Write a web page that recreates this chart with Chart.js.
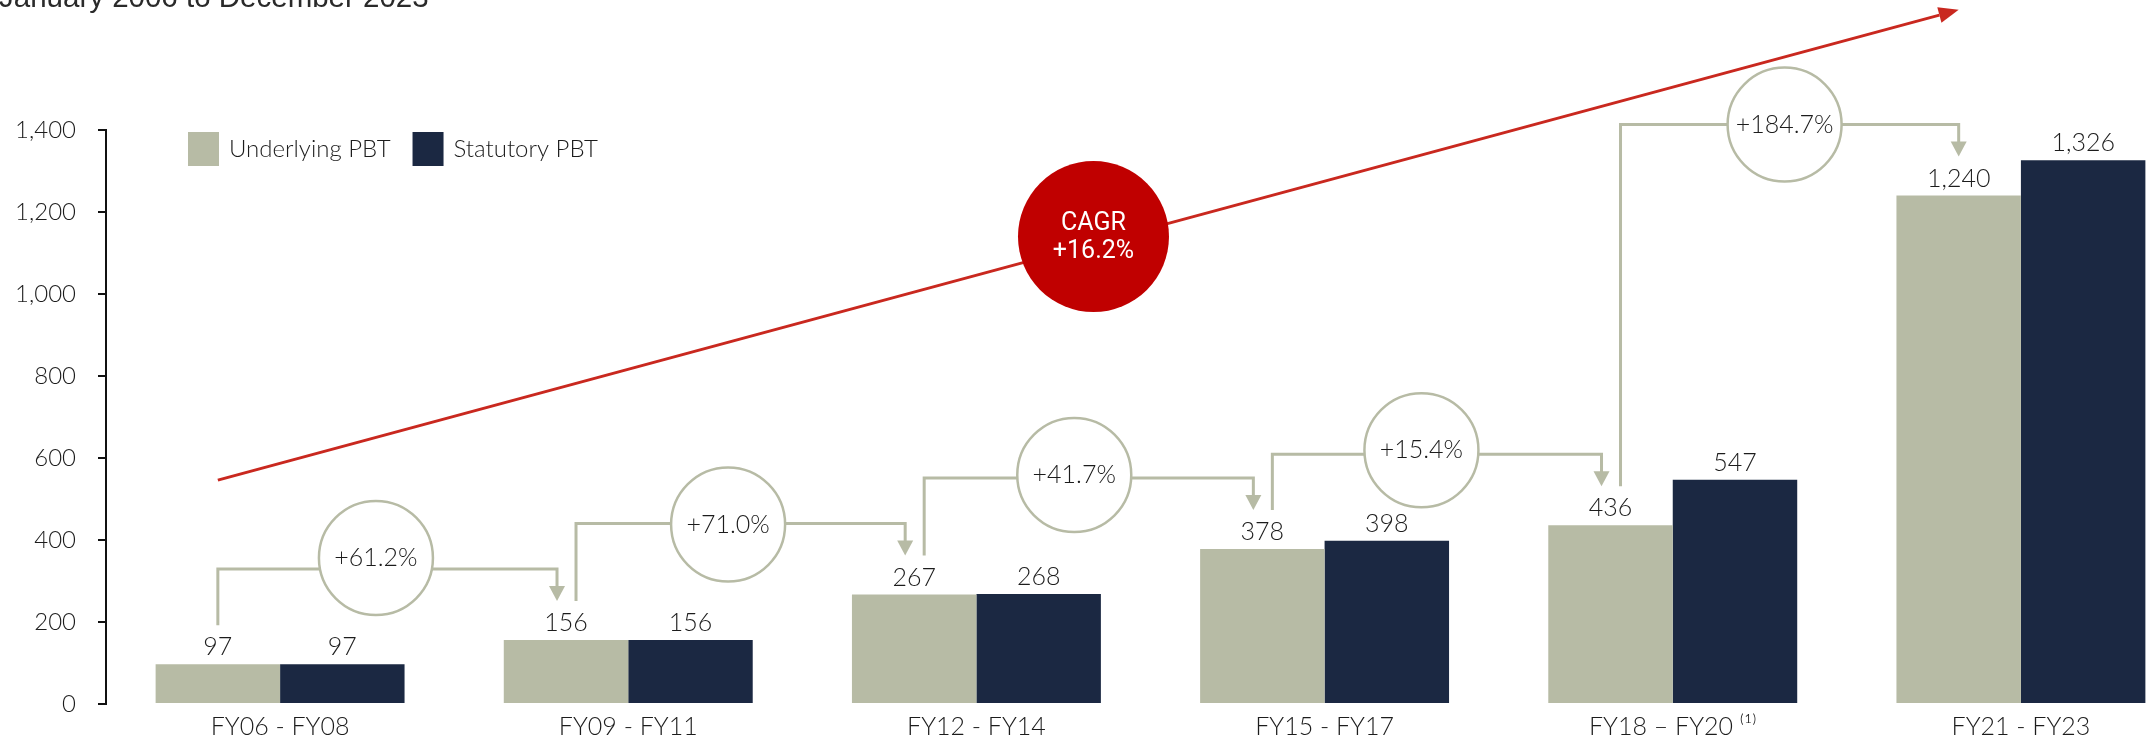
<!DOCTYPE html>
<html>
<head>
<meta charset="utf-8">
<script src="https://cdn.jsdelivr.net/npm/chart.js@4.4.1/dist/chart.umd.min.js"></script>
<style>
  html, body { margin: 0; padding: 0; background: #fff; overflow: hidden; }
  #wrap { position: relative; width: 2195px; height: 741px; }
  #period {
    position: absolute; left: -1px; top: -18px;
    font: 29.5px/30px "Liberation Sans", Arial, sans-serif;
    color: #2a2a2a; white-space: nowrap;
  }
</style>
</head>
<body>
<div id="wrap">
  <canvas id="pbtChart" width="2195" height="741"></canvas>
  <div id="period">January 2006 to December 2023</div>
</div>
<script>
// PBT by three-year period, £m
const periods = ['FY06 - FY08', 'FY09 - FY11', 'FY12 - FY14', 'FY15 - FY17', 'FY18 – FY20 ⁽¹⁾', 'FY21 - FY23'];
const underlyingPBT = [97, 156, 267, 378, 436, 1240];
const statutoryPBT = [97, 156, 268, 398, 547, 1326];
const growthLabels = ['+61.2%', '+71.0%', '+41.7%', '+15.4%', '+184.7%'];
const cagrText = ['CAGR', '+16.2%'];
const trendFrom = 546;   // trend arrow runs from first to last underlying bar
const trendTo = 1693;
const yMax = 1400;
const yStep = 200;

const FONT = '"Lato", "Noto Sans", sans-serif';
const SAGE = '#b7bba5';
const NAVY = '#1b2842';
const INK = '#1c1c1c';
const RED = '#c9281f';
const CAGR_FILL = '#c00000';

const fmt = v => v.toLocaleString('en-US');

// labels, growth connectors, trend arrow and legend drawn on top of the bars
const overlay = {
  id: 'overlay',
  afterDatasetsDraw(chart) {
    const ctx = chart.ctx;
    const y = chart.scales.y;
    const under = chart.getDatasetMeta(0).data;

    ctx.save();

    // value above every bar
    ctx.font = `300 25px ${FONT}`;
    ctx.fillStyle = INK;
    ctx.textAlign = 'center';
    ctx.textBaseline = 'alphabetic';
    chart.data.datasets.forEach((ds, di) => {
      chart.getDatasetMeta(di).data.forEach((bar, i) => {
        ctx.fillText(fmt(ds.data[i]), bar.x, bar.y - 9);
      });
    });

    // red trend arrow
    const x0 = under[0].x, y0 = y.getPixelForValue(trendFrom);
    const x1 = under[under.length - 1].x, y1 = y.getPixelForValue(trendTo);
    const ang = Math.atan2(y1 - y0, x1 - x0);
    const headLen = 20, headHalf = 8;
    ctx.strokeStyle = RED;
    ctx.fillStyle = RED;
    ctx.lineWidth = 3;
    ctx.beginPath();
    ctx.moveTo(x0, y0);
    ctx.lineTo(x1 - Math.cos(ang) * headLen, y1 - Math.sin(ang) * headLen);
    ctx.stroke();
    ctx.beginPath();
    ctx.moveTo(x1, y1);
    ctx.lineTo(x1 - Math.cos(ang) * headLen - Math.sin(ang) * headHalf,
               y1 - Math.sin(ang) * headLen + Math.cos(ang) * headHalf);
    ctx.lineTo(x1 - Math.cos(ang) * headLen + Math.sin(ang) * headHalf,
               y1 - Math.sin(ang) * headLen - Math.cos(ang) * headHalf);
    ctx.closePath();
    ctx.fill();

    // CAGR bubble sitting on the trend line
    const t = 0.503;
    const cx = x0 + t * (x1 - x0), cy = y0 + t * (y1 - y0) - 7;
    ctx.fillStyle = CAGR_FILL;
    ctx.beginPath();
    ctx.arc(cx, cy, 75.5, 0, Math.PI * 2);
    ctx.fill();
    ctx.fillStyle = '#fff';
    ctx.font = `400 25px "Roboto", sans-serif`;
    ctx.textBaseline = 'middle';
    ctx.fillText(cagrText[0], cx, cy - 13);
    ctx.fillText(cagrText[1], cx, cy + 15);

    // period-on-period growth connectors
    const tipY = i => under[i].y - 39;
    const shiftX = [-16, -12, -14, -15, 0];
    const shiftY = [-11, 1, -3, -4, 0];
    ctx.lineJoin = 'miter';
    for (let i = 0; i < growthLabels.length; i++) {
      const last = i + 1 === under.length - 1;
      const xs = under[i].x + (i > 0 ? 10 : 0);
      const xe = under[i + 1].x - (last ? 0 : 9);
      const ys = tipY(i), ye = tipY(i + 1);
      const hy = Math.min(ys, ye) - 32;

      ctx.strokeStyle = SAGE;
      ctx.lineWidth = 3;
      ctx.beginPath();
      ctx.moveTo(xs, ys);
      ctx.lineTo(xs, hy);
      ctx.lineTo(xe, hy);
      ctx.lineTo(xe, ye - 14);
      ctx.stroke();

      ctx.fillStyle = SAGE;
      ctx.beginPath();
      ctx.moveTo(xe - 8, ye - 15);
      ctx.lineTo(xe + 8, ye - 15);
      ctx.lineTo(xe, ye);
      ctx.closePath();
      ctx.fill();

      const bx = (under[i].x + under[i + 1].x) / 2 + shiftX[i];
      const by = hy + shiftY[i];
      ctx.beginPath();
      ctx.arc(bx, by, 57, 0, Math.PI * 2);
      ctx.fillStyle = '#fff';
      ctx.fill();
      ctx.lineWidth = 2.5;
      ctx.stroke();

      ctx.fillStyle = INK;
      ctx.font = `300 25px ${FONT}`;
      ctx.textBaseline = 'middle';
      ctx.fillText(growthLabels[i], bx, by);
    }

    // legend
    const lx = chart.chartArea.left + 82, ly = chart.chartArea.top + 19;
    ctx.textAlign = 'left';
    ctx.textBaseline = 'middle';
    ctx.font = `300 24px ${FONT}`;
    let x = lx;
    chart.data.datasets.forEach(ds => {
      ctx.fillStyle = ds.backgroundColor;
      ctx.fillRect(x, ly - 17, 31, 34);
      ctx.fillStyle = INK;
      ctx.fillText(ds.label, x + 41, ly);
      x += 41 + ctx.measureText(ds.label).width + 22;
    });

    ctx.restore();
  }
};

new Chart(document.getElementById('pbtChart'), {
  type: 'bar',
  data: {
    labels: periods,
    datasets: [
      { label: 'Underlying PBT', data: underlyingPBT, backgroundColor: SAGE },
      { label: 'Statutory PBT', data: statutoryPBT, backgroundColor: NAVY }
    ]
  },
  options: {
    responsive: false,
    animation: false,
    events: [],
    categoryPercentage: 0.715,
    barPercentage: 1,
    layout: { padding: { top: 130, left: 0, right: 0, bottom: 0 } },
    plugins: {
      legend: { display: false },
      tooltip: { enabled: false }
    },
    scales: {
      x: {
        afterFit: s => { s.height = 37; },
        grid: { display: false, drawTicks: false },
        border: { display: false },
        ticks: { color: INK, font: { family: FONT, size: 25, weight: 300 }, padding: 8, maxRotation: 0 }
      },
      y: {
        min: 0,
        max: yMax,
        afterFit: s => { s.width = 106; },
        grid: { drawOnChartArea: false, drawTicks: true, tickLength: 8, tickColor: '#111', lineWidth: 2 },
        border: { display: true, color: '#111', width: 2 },
        ticks: {
          stepSize: yStep,
          padding: 22,
          color: INK,
          font: { family: FONT, size: 24, weight: 300 },
          callback: v => fmt(v)
        }
      }
    }
  },
  plugins: [overlay]
});
</script>
</body>
</html>
